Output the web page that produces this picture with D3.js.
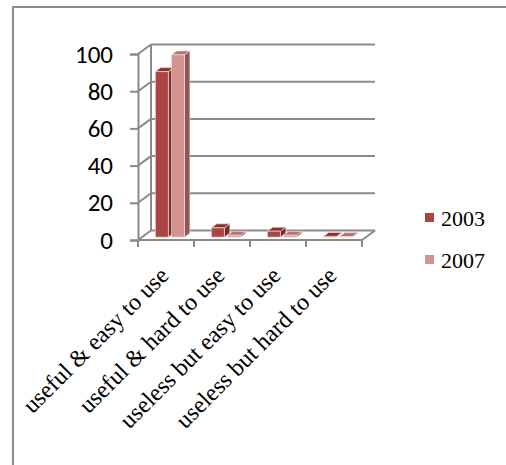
<!DOCTYPE html>
<html>
<head>
<meta charset="utf-8">
<script src="https://cdn.jsdelivr.net/npm/d3@7"></script>
<style>
  html, body { margin: 0; padding: 0; background: #fff; }
  svg { display: block; }
</style>
</head>
<body>
<svg id="chart" width="506" height="465"></svg>
<script>
// Perceived usefulness / ease of use, share of respondents (%)
const categories = ["useful & easy to use", "useful & hard to use", "useless but easy to use", "useless but hard to use"];
const seriesNames = ["2003", "2007"];
const values2003 = [89, 5, 3.2, 0.4];
const values2007 = [98, 1, 1, 0.3];
const yTicks = [0, 20, 40, 60, 80, 100];

const seriesValues = [values2003, values2007];
const colors = {
  "2003": { front: "#AB4543", top: "#8A3230", side: "#7A2B29" },
  "2007": { front: "#D49290", top: "#B97270", side: "#8F5856" }
};
const gridColor = "#8a8a8a";

const svg = d3.select("#chart");

// Outer frame (top and left edges)
svg.append("path")
  .attr("d", "M13,465 L13,7 L506,7")
  .attr("fill", "none").attr("stroke", "#8c8c8c").attr("stroke-width", 2);

// Front plane scales; the back wall is offset by (depthDx, depthDy)
const x0 = d3.scaleBand().domain(categories).range([138, 362]).padding(0);
const x1 = d3.scaleBand().domain(seriesNames).range([0, x0.bandwidth()])
  .paddingInner(0.1875).paddingOuter(0.84);
const y = d3.scaleLinear().domain([0, 100]).range([240, 54]);
const depthDx = 13, depthDy = -9.5;

function pt(px, v, d) {
  return [px + d * depthDx, y(v) + d * depthDy];
}

const g = svg.append("g");

// Back wall gridlines and side wall gridlines
yTicks.forEach(t => {
  const a = pt(x0.range()[0], t, 1), b = pt(x0.range()[1], t, 1);
  g.append("line").attr("x1", a[0]).attr("y1", a[1]).attr("x2", b[0]).attr("y2", b[1])
    .attr("stroke", gridColor).attr("stroke-width", 2);
  const f = pt(x0.range()[0], t, 0);
  g.append("line").attr("x1", f[0]).attr("y1", f[1]).attr("x2", a[0]).attr("y2", a[1])
    .attr("stroke", gridColor).attr("stroke-width", 2);
});
// Back vertical edge of the left wall
{
  const a = pt(x0.range()[0], 0, 1), b = pt(x0.range()[0], 100, 1);
  g.append("line").attr("x1", a[0]).attr("y1", a[1]).attr("x2", b[0]).attr("y2", b[1])
    .attr("stroke", gridColor).attr("stroke-width", 2);
}
// Floor outline
{
  const p1 = pt(x0.range()[0], 0, 0), p2 = pt(x0.range()[1], 0, 0), p3 = pt(x0.range()[1], 0, 1);
  g.append("path").attr("d", `M${p1}L${p2}L${p3}`)
    .attr("fill", "none").attr("stroke", gridColor).attr("stroke-width", 2);
}

// Value axis on the front plane
const yAxis = d3.axisLeft(y).tickValues(yTicks).tickSize(8).tickPadding(17);
const yg = svg.append("g").attr("transform", "translate(138,0)").call(yAxis);
yg.select(".domain").attr("stroke", gridColor).attr("stroke-width", 2);
yg.selectAll(".tick line").attr("stroke", gridColor).attr("stroke-width", 2);
yg.selectAll(".tick text").attr("fill", "#000")
  .style("font-family", "Carlito, Lato, 'Open Sans', sans-serif").style("font-size", "25px");

// Category ticks along the front floor edge
const catEdges = categories.map(c => x0(c)).concat([x0.range()[1]]);
svg.append("g").selectAll("line").data(catEdges).join("line")
  .attr("x1", d => d).attr("x2", d => d).attr("y1", 240).attr("y2", 247)
  .attr("stroke", gridColor).attr("stroke-width", 2);

// 3D bars
const d0 = 0.3, d1 = 0.72;
const bars = svg.append("g");
seriesNames.forEach((s, si) => {
  seriesValues[si].forEach((v, ci) => {
    const xl = x0(categories[ci]) + x1(s);
    const xr = xl + x1.bandwidth();
    const fl = pt(xl, v, d0), fr = pt(xr, v, d0);
    const bl = pt(xl, 0, d0), br = pt(xr, 0, d0);
    const tl = pt(xl, v, d1), tr = pt(xr, v, d1);
    const sb = pt(xr, 0, d1);
    const c = colors[s];
    // right side face
    bars.append("path").attr("d", `M${fr}L${tr}L${sb}L${br}Z`)
      .attr("fill", c.side).attr("stroke", "#f3e6e6").attr("stroke-width", 0.6);
    // top face
    bars.append("path").attr("d", `M${fl}L${tl}L${tr}L${fr}Z`)
      .attr("fill", c.top).attr("stroke", "#f3e6e6").attr("stroke-width", 0.6);
    // front face
    bars.append("path").attr("d", `M${bl}L${fl}L${fr}L${br}Z`)
      .attr("fill", c.front).attr("stroke", "#f3e6e6").attr("stroke-width", 0.6);
  });
});

// Rotated category labels
svg.append("g").selectAll("text").data(categories).join("text")
  .attr("transform", d => `translate(${x0(d) + x0.bandwidth() / 2 + 4},277) rotate(-45)`)
  .attr("text-anchor", "end")
  .style("font-family", "'Liberation Serif', 'Times New Roman', serif")
  .style("font-size", "24px")
  .attr("fill", "#000")
  .text(d => d);

// Legend
const legend = svg.append("g").selectAll("g").data(seriesNames).join("g")
  .attr("transform", (d, i) => `translate(425,${213 + i * 42})`);
legend.append("rect").attr("width", 9).attr("height", 9)
  .attr("fill", d => colors[d].front);
legend.append("text").attr("x", 16).attr("y", 13)
  .style("font-family", "'Liberation Serif', 'Times New Roman', serif")
  .style("font-size", "22px").attr("fill", "#000")
  .text(d => d);
</script>
</body>
</html>
